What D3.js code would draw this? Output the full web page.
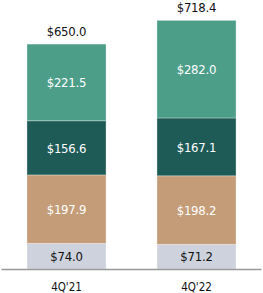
<!DOCTYPE html>
<html>
<head>
<meta charset="utf-8">
<script src="https://cdn.jsdelivr.net/npm/d3@7"></script>
<style>
  body { margin: 0; background: #fff; }
  svg { display: block; font-family: "DejaVu Sans Condensed", "DejaVu Sans", sans-serif; }
</style>
</head>
<body>
<svg width="263" height="293"></svg>
<script>
// quarters on the x axis
const quarters = ["4Q'21", "4Q'22"];
// segments stacked from the bottom up
const segments = ["s1", "s2", "s3", "s4"];
const s1 = [74.0, 71.2];
const s2 = [197.9, 198.2];
const s3 = [156.6, 167.1];
const s4 = [221.5, 282.0];
const totals = [650.0, 718.4];

const colors = ["#CDD2DC", "#C49C78", "#1E5B57", "#4D9E89"];
const labelColors = ["#111", "#fff", "#fff", "#fff"];

const svg = d3.select("svg");

const data = quarters.map((q, i) => ({
  q,
  s1: s1[i],
  s2: s2[i],
  s3: s3[i],
  s4: s4[i],
  total: totals[i],
}));

const x = d3
  .scaleBand()
  .domain(quarters)
  .range([1.5, 261.5])
  .paddingInner(0.392)
  .paddingOuter(0.196);

const y = d3.scaleLinear().domain([0, 750]).range([269, 9.5]);

const stacked = d3.stack().keys(segments)(data);

const layers = svg
  .selectAll("g.layer")
  .data(stacked)
  .join("g")
  .attr("class", "layer")
  .attr("fill", (d, i) => colors[i]);

layers
  .selectAll("rect")
  .data((d) => d)
  .join("rect")
  .attr("x", (d) => x(d.data.q))
  .attr("y", (d) => y(d[1]))
  .attr("width", x.bandwidth())
  .attr("height", (d) => y(d[0]) - y(d[1]))
  .attr("stroke", "rgba(255,255,255,0.3)")
  .attr("stroke-width", 1);

// values inside the segments
layers
  .selectAll("text")
  .data((d, i) => d.map((v) => ({ v, i })))
  .join("text")
  .attr("x", (d) => x(d.v.data.q) + x.bandwidth() / 2)
  .attr("y", (d) => (y(d.v[0]) + y(d.v[1])) / 2)
  .attr("dy", "0.36em")
  .attr("text-anchor", "middle")
  .attr("font-size", 13)
  .attr("letter-spacing", -0.2)
  .attr("fill", (d) => labelColors[d.i])
  .text((d) => "$" + (d.v[1] - d.v[0]).toFixed(1));

// totals above bars
svg
  .selectAll("text.total")
  .data(data)
  .join("text")
  .attr("class", "total")
  .attr("x", (d) => x(d.q) + x.bandwidth() / 2)
  .attr("y", (d) => y(d.total) - 8.5)
  .attr("text-anchor", "middle")
  .attr("font-size", 13)
  .attr("letter-spacing", -0.2)
  .attr("fill", "#111")
  .text((d) => "$" + d.total.toFixed(1));

// baseline
svg
  .append("line")
  .attr("x1", 1.5)
  .attr("x2", 261.5)
  .attr("y1", y(0) + 0.5)
  .attr("y2", y(0) + 0.5)
  .attr("stroke", "#999")
  .attr("stroke-width", 1.5);

const xAxis = svg
  .append("g")
  .attr("transform", `translate(0,${y(0)})`)
  .call(d3.axisBottom(x).tickSize(0).tickPadding(13.5));
xAxis.select(".domain").remove();
xAxis
  .selectAll("text")
  .attr("font-size", 11.5)
  .attr("font-family", "'DejaVu Sans Condensed', 'DejaVu Sans', sans-serif")
  .attr("fill", "#111");
</script>
</body>
</html>
